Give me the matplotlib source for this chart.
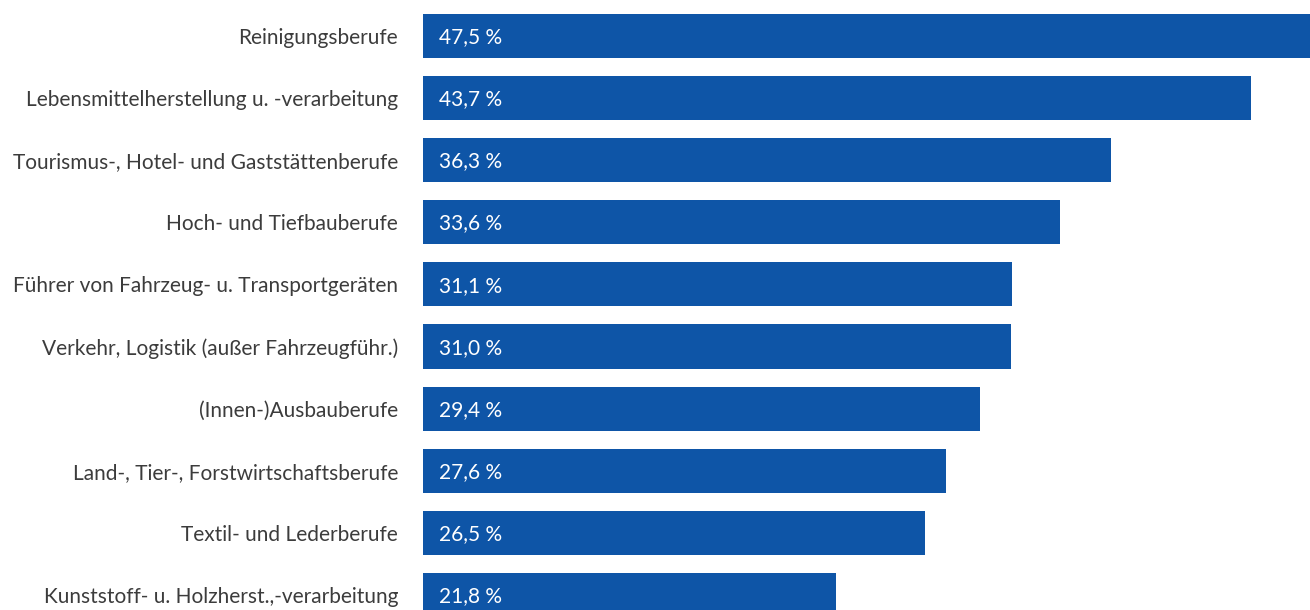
import matplotlib
matplotlib.use("Agg")
import matplotlib.pyplot as plt

# Anteil je Berufsgruppe in Prozent
berufe = [
    "Reinigungsberufe",
    "Lebensmittelherstellung u. -verarbeitung",
    "Tourismus-, Hotel- und Gaststättenberufe",
    "Hoch- und Tiefbauberufe",
    "Führer von Fahrzeug- u. Transportgeräten",
    "Verkehr, Logistik (außer Fahrzeugführ.)",
    "(Innen-)Ausbauberufe",
    "Land-, Tier-, Forstwirtschaftsberufe",
    "Textil- und Lederberufe",
    "Kunststoff- u. Holzherst.,-verarbeitung",
]
anteile = [47.5, 43.7, 36.3, 33.6, 31.1, 31.0, 29.4, 27.6, 26.5, 21.8]

blau = "#0e55a7"
grau = "#3c3c3c"

plt.rcParams["font.family"] = ["Lato", "DejaVu Sans"]

fig = plt.figure(figsize=(13.1, 6.1), dpi=100)
ax = fig.add_axes([423 / 1310, 0, 1 - 423 / 1310, 1])

pos = list(range(len(berufe)))
ax.barh(pos, anteile, height=0.71, color=blau)

for y, v in zip(pos, anteile):
    txt = f"{v:.1f} %".replace(".", ",")
    ax.text(0.85, y + 0.02, txt, color="white", fontsize=15, va="center", ha="left")

ax.set_yticks(pos)
ax.set_yticklabels(berufe, fontsize=15, color=grau)
ax.tick_params(axis="y", length=0, pad=18)
ax.set_xticks([])
ax.set_xlim(0, 46.8)
ax.set_ylim(9.243, -0.58)
for s in ax.spines.values():
    s.set_visible(False)

fig.savefig("out.png", dpi=100)
